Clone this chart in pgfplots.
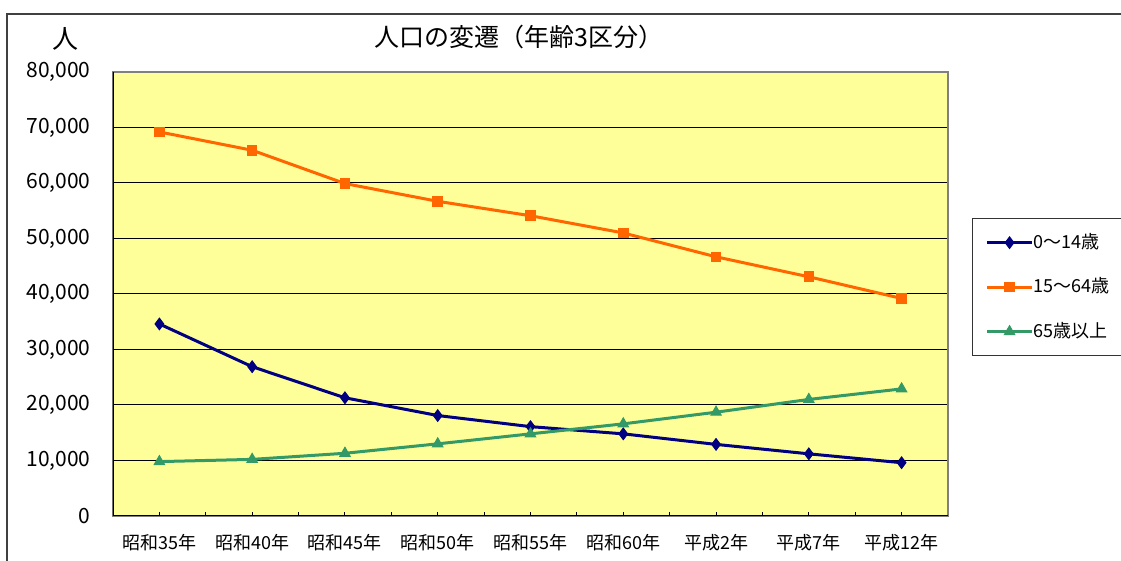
\documentclass[border=0pt]{standalone}
\usepackage{fontspec}
\setmainfont{Noto Sans CJK JP}
\usepackage{pgfplots}
\pgfplotsset{compat=1.18}

\definecolor{plotbg}{HTML}{FFFF99}
\definecolor{kids}{HTML}{000080}
\definecolor{workers}{HTML}{FF6600}
\definecolor{elders}{HTML}{339966}

\begin{document}
\begin{tikzpicture}
\useasboundingbox (0pt,0pt) rectangle (560.5pt,280.5pt);
% outer frame (top and left edges)
\draw[line width=0.9pt, black!75] (3.5pt,0pt) -- (3.5pt,273.5pt) -- (560.5pt,273.5pt);
\node[font=\fontsize{12.5}{15}\selectfont, inner sep=0pt] at (259.5pt,262pt) {人口の変遷（年齢3区分）};
\node[font=\fontsize{13}{15}\selectfont, inner sep=0pt] at (33pt,261pt) {人};
\begin{axis}[
  at={(56.5pt,22.5pt)}, anchor=south west,
  scale only axis, width=417.5pt, height=222pt,
  xmin=-0.5, xmax=8.5, ymin=0, ymax=80000,
  xtick={0,...,8},
  xticklabels={昭和35年,昭和40年,昭和45年,昭和50年,昭和55年,昭和60年,平成2年,平成7年,平成12年},
  minor xtick={0.5,1.5,...,7.5},
  ytick={0,10000,...,80000},
  scaled y ticks=false,
  /pgf/number format/.cd, 1000 sep={,}, assume math mode=true, /pgfplots/.cd,
  ymajorgrids,
  major grid style={black, line width=0.5pt},
  axis background/.style={fill=plotbg},
  axis line style={gray, line width=0.7pt},
  tick align=inside,
  xtick pos=lower, ytick pos=left,
  major tick length=2pt, minor tick length=2pt,
  tick style={black, line width=0.5pt},
  ytick style={draw=none},
  yticklabel style={font=\fontsize{10.5}{12}\selectfont, inner sep=0pt, anchor=east, xshift=-11pt},
  xticklabel style={font=\fontsize{9}{11}\selectfont, inner sep=0pt, anchor=center, yshift=-13.5pt},
  legend style={
    at={(1.0287,0.671)}, anchor=north west,
    draw=black!80, line width=0.6pt, fill=white,
    inner xsep=6.5pt, inner ysep=7.75pt,
    row sep=13.75pt,
    font=\fontsize{9}{11}\selectfont,
    nodes={inner sep=0pt, text height=7pt, text depth=1.5pt, anchor=west},
  },
  legend cell align=left,
  legend image code/.code={%
    \draw[mark repeat=2, mark phase=2] plot coordinates {(0pt,0pt) (11.25pt,0pt) (22.5pt,0pt)};},
]
\addplot[kids, line width=1.5pt, mark=diamond*, mark size=2.9pt, mark options={solid, line width=0.5pt}]
  coordinates {(0,34600) (1,26900) (2,21300) (3,18100) (4,16100) (5,14800) (6,12900) (7,11200) (8,9600)};
\addlegendentry{0～14歳}
\addplot[workers, line width=1.5pt, mark=square*, mark size=2.4pt, mark options={solid, line width=0.5pt}]
  coordinates {(0,69200) (1,65900) (2,59900) (3,56700) (4,54100) (5,51000) (6,46700) (7,43100) (8,39200)};
\addlegendentry{15～64歳}
\addplot[elders, line width=1.5pt, mark=triangle*, mark size=3pt, mark options={solid, line width=0.5pt}]
  coordinates {(0,9800) (1,10200) (2,11300) (3,13000) (4,14800) (5,16600) (6,18700) (7,21000) (8,22900)};
\addlegendentry{65歳以上}
% left and bottom axis lines are drawn darker than the top and right edges
\draw[black, line width=0.8pt] (rel axis cs:0,1) -- (rel axis cs:0,0) -- (rel axis cs:1,0);
\end{axis}
\end{tikzpicture}
\end{document}
